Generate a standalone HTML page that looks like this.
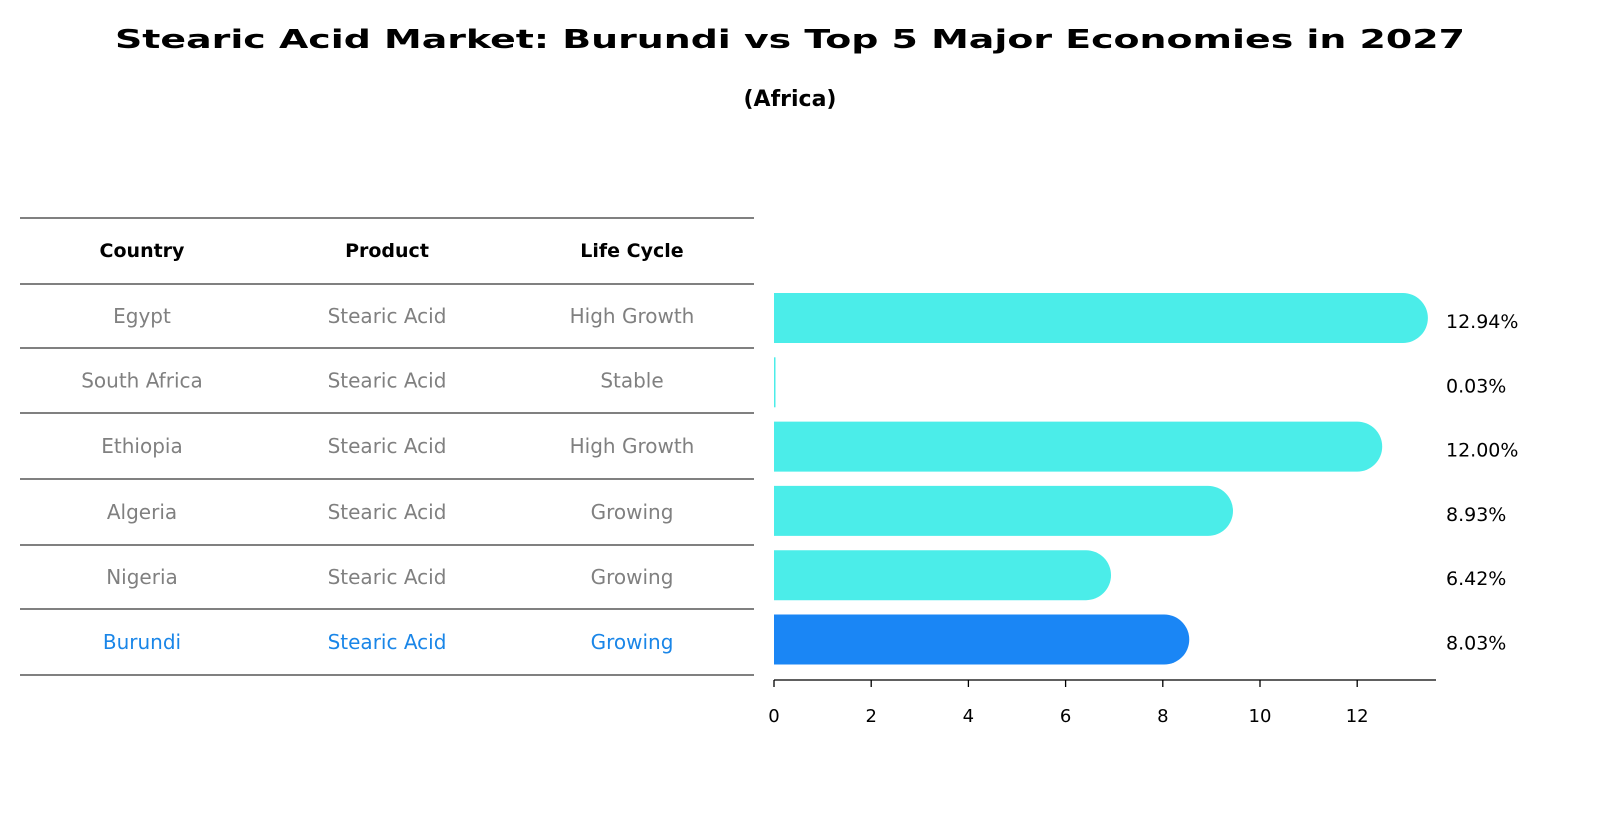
<!DOCTYPE html>
<html><head><meta charset="utf-8"><style>
body{margin:0;background:#fff;}
svg text{font-family:"DejaVu Sans","Liberation Sans",sans-serif;}
</style></head><body>
<svg width="1604" height="823" viewBox="0 0 1604 823" xmlns="http://www.w3.org/2000/svg">
<text x="790" y="48" text-anchor="middle" font-size="26" font-weight="bold" textLength="1350" lengthAdjust="spacingAndGlyphs">Stearic Acid Market: Burundi vs Top 5 Major Economies in 2027</text>
<text x="790" y="106" text-anchor="middle" font-size="22" font-weight="bold">(Africa)</text>
<g id="table"></g>
<g id="bars"></g>
</svg>
<script>
const countries=["Egypt","South Africa","Ethiopia","Algeria","Nigeria","Burundi"];
const products=["Stearic Acid","Stearic Acid","Stearic Acid","Stearic Acid","Stearic Acid","Stearic Acid"];
const lifeCycles=["High Growth","Stable","High Growth","Growing","Growing","Growing"];
const values=[12.94,0.03,12.00,8.93,6.42,8.03];
const valueLabels=["12.94%","0.03%","12.00%","8.93%","6.42%","8.03%"];
const ticks=[0,2,4,6,8,10,12];
const NS="http://www.w3.org/2000/svg";
function mk(tag,attrs,parent){const e=document.createElementNS(NS,tag);for(const k in attrs)e.setAttribute(k,attrs[k]);parent.appendChild(e);return e;}
const table=document.getElementById('table');
const bars=document.getElementById('bars');
const lineYs=[218,284,348,413,479,545,609,675];
const rowY=i=>(lineYs[i+1]+lineYs[i+2])/2;
const colX=[142,387,632];
lineYs.forEach(y=>{const l=mk('line',{x1:20,x2:754,y1:y,y2:y,stroke:'#000','stroke-width':1},table);

});
["Country","Product","Life Cycle"].forEach((h,j)=>{const t=mk('text',{x:colX[j],y:257,'text-anchor':'middle','font-size':19,'font-weight':'bold'},table);t.textContent=h;

});
countries.forEach((c,i)=>{const col=c==="Burundi"?'#1a86e8':'#808080';
[c,products[i],lifeCycles[i]].forEach((v,j)=>{const t=mk('text',{x:colX[j],y:rowY(i)+7,'text-anchor':'middle','font-size':20,fill:col},table);t.textContent=v;

});});
const x0=774,scale=48.6;
const xs=v=>x0+v*scale;
const barY=i=>318+i*64.3;
const H=50,R=25;
values.forEach((v,i)=>{const y=barY(i);const col=countries[i]==="Burundi"?'#1a86f5':'#4bede9';
const w=xs(v)-x0;
let d;
if(v<0.2){d=`M${x0} ${y-H/2}h${Math.max(w,1.5)}v${H}h${-Math.max(w,1.5)}z`;}
else{d=`M${x0} ${y-H/2}H${xs(v)}A${R} ${R} 0 0 1 ${xs(v)} ${y+H/2}H${x0}z`;}
const p=mk('path',{d:d,fill:col},bars);


const t=mk('text',{x:1446,y:y+10,'font-size':19},bars);t.textContent=valueLabels[i];

});
const ax=mk('line',{x1:x0,x2:1436,y1:680,y2:680,stroke:'#000','stroke-width':1.3},bars);


ticks.forEach(v=>{const l=mk('line',{x1:xs(v),x2:xs(v),y1:680,y2:687,stroke:'#000','stroke-width':1.3},bars);


const t=mk('text',{x:xs(v),y:722,'text-anchor':'middle','font-size':18},bars);t.textContent=v;

});
</script>
</body></html>
